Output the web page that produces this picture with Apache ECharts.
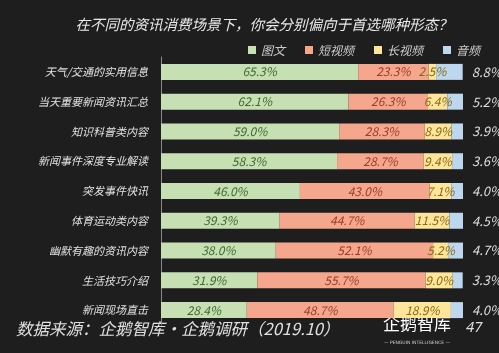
<!DOCTYPE html>
<html>
<head>
<meta charset="utf-8">
<script src="https://cdn.jsdelivr.net/npm/echarts@6/dist/echarts.min.js"></script>
<style>
  html, body { margin: 0; padding: 0; background: #1e1e1e; }
  #chart { width: 499px; height: 353px; }
</style>
</head>
<body>
<div id="chart"></div>
<script>
  // 场景分类
  const categories = ['天气/交通的实用信息', '当天重要新闻资讯汇总', '知识科普类内容', '新闻事件深度专业解读',
    '突发事件快讯', '体育运动类内容', '幽默有趣的资讯内容', '生活技巧介绍', '新闻现场直击']
  const seriesNames = ['图文', '短视频', '长视频', '音频']
  const tuwen = [65.3, 62.1, 59.0, 58.3, 46.0, 39.3, 38.0, 31.9, 28.4]
  const duanShipin = [23.3, 26.3, 28.3, 28.7, 43.0, 44.7, 52.1, 55.7, 48.7]
  const changShipin = [2.5, 6.4, 8.9, 9.4, 7.1, 11.5, 5.2, 9.0, 18.9]
  const yinpin = [8.8, 5.2, 3.9, 3.6, 4.0, 4.5, 4.7, 3.3, 4.0]

  const font = '"Noto Sans CJK SC", "Noto Sans", sans-serif'
  const colors = ['#c6e0b4', '#f4a78d', '#fde59c', '#bdd7ee']
  const labelColors = ['#3f6b2e', '#9e3b28', '#8a6a12', '#dddddd']
  const allValues = [tuwen, duanShipin, changShipin, yinpin]

  const chart = echarts.init(document.getElementById('chart'))

  const seriesArr = allValues.map((data, i) => {
    const isAudio = i === 3
    return {
      name: seriesNames[i],
      type: 'bar',
      stack: 'total',
      data: data,
      barWidth: 16,
      itemStyle: { color: colors[i] },
      label: {
        show: true,
        position: isAudio ? 'right' : 'inside',
        distance: isAudio ? 9 : 5,
        formatter: p => p.value.toFixed(1) + '%',
        color: labelColors[i],
        fontFamily: font,
        fontStyle: 'italic',
        fontSize: isAudio ? 13 : 12
      }
    }
  })

  const option = {
    backgroundColor: '#1e1e1e',
    animation: false,
    title: {
      text: '在不同的资讯消费场景下，你会分别偏向于首选哪种形态？',
      left: 259,
      textAlign: 'center',
      top: 12,
      textStyle: { color: '#e8e8e8', fontSize: 14.5, fontWeight: 'normal', fontStyle: 'italic', fontFamily: font }
    },
    legend: {
      data: seriesNames,
      left: 243,
      top: 39,
      itemWidth: 8,
      itemHeight: 8,
      itemGap: 20,
      icon: 'rect',
      textStyle: { color: '#cccccc', fontSize: 12, fontStyle: 'italic', fontFamily: font }
    },
    grid: {
      left: 161,
      right: 36,
      top: 57,
      bottom: 28
    },
    xAxis: {
      type: 'value',
      min: 0,
      max: 100,
      show: false
    },
    yAxis: {
      type: 'category',
      data: categories,
      inverse: true,
      axisTick: { show: false },
      axisLine: { show: true, lineStyle: { color: '#8a8a8a', width: 1 } },
      axisLabel: {
        color: '#e0e0e0',
        fontSize: 11,
        fontStyle: 'italic',
        fontFamily: font,
        margin: 13
      }
    },
    series: seriesArr,
    graphic: [
      {
        type: 'text',
        left: 16,
        top: 320,
        style: { text: '数据来源：企鹅智库·企鹅调研（2019.10）', fill: '#e0e0e0', font: 'italic 16.5px "Noto Sans CJK SC"' }
      },
      {
        type: 'text',
        left: 383,
        top: 315,
        style: { text: '企鹅智库', fill: '#ffffff', font: '17px "Noto Sans CJK SC"' }
      },
      {
        type: 'text',
        left: 384,
        top: 340,
        style: { text: '— PENGUIN INTELLIGENCE —', fill: '#cccccc', font: '4.5px "DejaVu Sans"' }
      },
      {
        type: 'text',
        left: 466,
        top: 320,
        style: { text: '47', fill: '#dddddd', font: 'italic 15px "Noto Sans"' }
      }
    ]
  }

  chart.setOption(option)
</script>
</body>
</html>
